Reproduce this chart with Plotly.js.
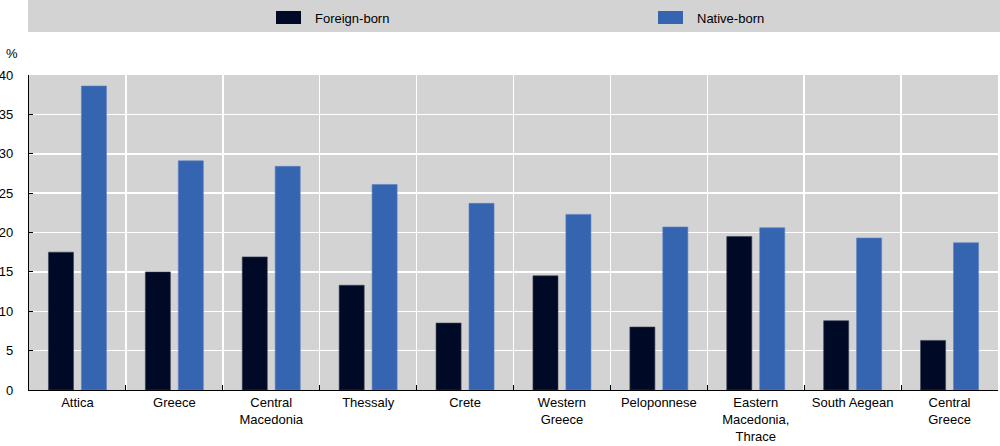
<!DOCTYPE html>
<html>
<head>
<meta charset="utf-8">
<script src="https://cdn.plot.ly/plotly-3.0.1.min.js"></script>
<style>html,body{margin:0;padding:0;background:#fff;}#chart{width:1000px;height:446px;}</style>
</head>
<body>
<div id="chart"></div>
<script>
const regions = ["Attica", "Greece", "Central<br>Macedonia", "Thessaly", "Crete", "Western<br>Greece", "Peloponnese", "Eastern<br>Macedonia,<br>Thrace", "South Aegean", "Central<br>Greece"];
const foreignBorn = [17.5, 15.0, 16.9, 13.3, 8.5, 14.5, 8.0, 19.5, 8.8, 6.3];
const nativeBorn = [38.6, 29.1, 28.4, 26.1, 23.7, 22.3, 20.7, 20.6, 19.3, 18.7];
const seriesNames = ["Foreign-born", "Native-born"];
const seriesColors = ["#000a26", "#3565b0"];
const yTicks = [0, 5, 10, 15, 20, 25, 30, 35, 40];

const W = 1000, H = 446;
const mL = 29, mR = 2, mT = 75, mB = 56;
const pw = W - mL - mR, ph = H - mT - mB;
const px2x = p => (p - mL) / pw;
const py2y = p => 1 + (mT - p) / ph;

const traces = [
  {type: 'bar', name: seriesNames[0], x: regions, y: foreignBorn,
   marker: {color: seriesColors[0], line: {color: '#3a3f55', width: 0.6}}},
  {type: 'bar', name: seriesNames[1], x: regions, y: nativeBorn,
   marker: {color: seriesColors[1], line: {color: '#5a80c4', width: 0.6}}}
];

// manual legend (swatch 25x13 like the reference)
const legendSwatchLeft = [276, 658];
const shapes = [
  {type: 'rect', xref: 'paper', yref: 'paper', layer: 'below',
   x0: px2x(28), x1: px2x(1000), y0: py2y(32), y1: py2y(0),
   fillcolor: '#d3d3d3', line: {width: 0}}
];
const annotations = [
  {text: '%', xref: 'paper', yref: 'paper', x: px2x(12), y: py2y(53),
   xanchor: 'center', yanchor: 'middle', showarrow: false, font: {size: 13}}
];
seriesNames.forEach((nm, i) => {
  const l = legendSwatchLeft[i];
  shapes.push({type: 'rect', xref: 'paper', yref: 'paper',
    x0: px2x(l), x1: px2x(l + 25), y0: py2y(24), y1: py2y(11),
    fillcolor: seriesColors[i], line: {width: 0}});
  annotations.push({text: nm, xref: 'paper', yref: 'paper',
    x: px2x(l + 37), y: py2y(18.5), xanchor: 'left', yanchor: 'middle',
    showarrow: false, font: {size: 13}});
});

const layout = {
  width: W, height: H,
  margin: {l: mL, r: mR, t: mT, b: mB, pad: 0},
  paper_bgcolor: '#ffffff',
  plot_bgcolor: '#d3d3d3',
  font: {family: 'Arial, "Liberation Sans", sans-serif', size: 13, color: '#000'},
  barmode: 'group',
  bargap: 0.32,
  bargroupgap: 0.24,
  showlegend: false,
  xaxis: {
    type: 'category',
    tickson: 'boundaries',
    showgrid: true, gridcolor: '#ffffff', gridwidth: 1.5,
    ticks: 'inside', ticklen: 5, tickcolor: '#000', tickwidth: 1,
    showline: true, linecolor: '#000', linewidth: 1.2,
    tickfont: {size: 13},
    automargin: false
  },
  yaxis: {
    range: [0, 40],
    tickvals: yTicks,
    ticktext: yTicks.map(String),
    showgrid: true, gridcolor: '#ffffff', gridwidth: 1.5,
    ticks: 'inside', ticklen: 4, tickcolor: '#000', tickwidth: 1,
    ticklabelstandoff: 12,
    showline: true, linecolor: '#000', linewidth: 1.2,
    zeroline: false,
    tickfont: {size: 13},
    automargin: false
  },
  shapes: shapes,
  annotations: annotations
};

Plotly.newPlot('chart', traces, layout, {displayModeBar: false, staticPlot: true});
</script>
</body>
</html>
